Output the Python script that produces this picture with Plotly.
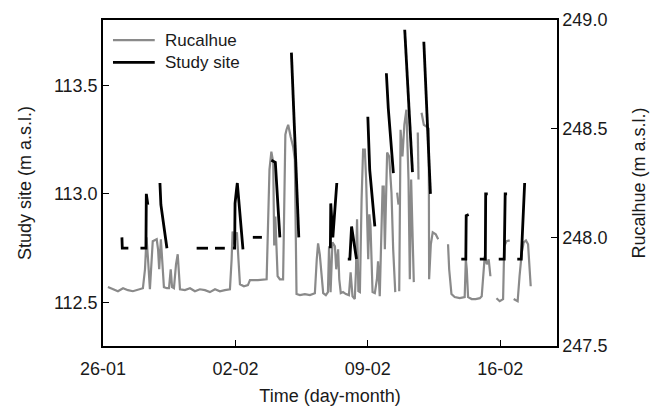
import datetime as dt
import plotly.graph_objects as go

# ---------------- data ----------------
start_date = dt.datetime(2011, 1, 26)

# Rucalhue (m a.s.l.), time in days since 26-01 ; None = gap
ruc_days = [0.26, 0.53, 0.79, 1.06, 1.32, 1.58, 1.85, 2.11, 2.22, 2.30, 2.38, 2.48, 2.63, 2.75, 2.84,
            2.91, 2.97, 3.06, 3.14, 3.22, 3.38, 3.49, 3.58, 3.65, 3.75, 3.86, 3.95, 4.01, 4.07, 4.33,
            4.60, 4.86, 5.12, 5.39, 5.65, 5.92, 6.18, 6.44, 6.71, 6.80, 6.85, 6.92, 7.00, 7.08, 7.16,
            7.24, 7.45, 7.66, 7.77, 8.19, 8.65, 8.73, 8.80, 8.90, 9.00, 9.05, 9.11, 9.23, 9.35, 9.52,
            9.58, 9.64, 9.70, 9.79, 9.92, 10.05, 10.14, 10.18, 10.23, 10.41, 10.67, 10.94, 11.20, 11.30,
            11.37, 11.46, 11.55, 11.64, 11.78, 11.89, 11.95, 12.03, 12.13, 12.20, 12.26, 12.33, 12.43,
            12.49, 12.57, 12.69, 12.84, 13.00, 13.09, 13.19, 13.31, 13.37, 13.43, 13.50, 13.58, 13.67,
            13.75, 13.84, 13.91, 14.02, 14.08, 14.14, 14.25, 14.37, 14.48, 14.54, 14.63, 14.78, 14.84,
            14.90, 15.02, 15.13, 15.25, 15.34, 15.45, None,
            15.55, 15.62, None,
            15.66, 15.73, 15.83, 15.93, 16.04, 16.15, 16.22, 16.29, 16.43, None,
            16.64, 16.68, None,
            16.84, 16.96, 17.10, 17.22, 17.24, 17.33, 17.43, 17.59, 17.72, None,
            18.24, 18.30, 18.42, 18.59, 18.86, 19.12, 19.18, 19.23, 19.30, 19.49, 19.70, 19.92, 20.02,
            20.18, 20.29, 20.39, 20.48, None,
            20.80, 20.97, 21.15, 21.21, 21.33, 21.50, None,
            21.71, 21.92, 22.02, 22.14, 22.24, 22.36, 22.47, 22.61]
ruc_level = [247.771, 247.761, 247.752, 247.766, 247.757, 247.752, 247.761, 247.766, 247.853, 248.000,
             247.899, 247.761, 247.982, 247.986, 247.991, 247.945, 247.853, 247.991, 247.899, 247.771,
             247.766, 247.766, 247.853, 247.771, 247.766, 247.876, 247.922, 247.807, 247.761, 247.757,
             247.766, 247.752, 247.761, 247.757, 247.748, 247.761, 247.752, 247.757, 247.761, 247.899,
             248.027, 247.968, 247.991, 248.023, 247.899, 247.784, 247.775, 247.780, 247.803, 247.803,
             247.807, 248.037, 248.312, 248.394, 248.344, 247.963, 248.096, 247.821, 247.807, 247.807,
             248.174, 248.472, 248.495, 248.518, 248.463, 248.417, 248.358, 247.945, 247.739, 247.734,
             247.739, 247.734, 247.743, 247.899, 247.972, 247.922, 247.807, 247.743, 247.734, 247.748,
             247.959, 247.748, 247.977, 247.968, 247.959, 247.853, 247.945, 247.807, 247.743, 247.748,
             247.739, 247.734, 247.839, 247.729, 247.716, 247.839, 248.083, 247.752, 247.748, 248.174,
             248.404, 248.404, 248.266, 247.899, 248.106, 248.055, 247.748, 247.743, 247.807, 247.890,
             247.729, 248.234, 248.234, 247.945, 248.390, 248.372, 248.206, 247.945, 247.748, None,
             248.206, 248.151, None,
             247.752, 248.495, 248.372, 248.518, 248.587, 248.266, 247.807, 248.266, 247.794, None,
             248.482, 248.266, None,
             248.573, 248.518, 248.509, 248.500, 247.807, 247.968, 248.023, 248.014, 247.991, None,
             247.968, 247.853, 247.739, 247.725, 247.720, 247.725, 247.899, 247.853, 247.725, 247.716,
             247.716, 247.720, 247.729, 247.913, 247.876, 247.899, 247.821, None,
             247.720, 247.706, 247.716, 247.959, 247.982, 247.986, None,
             247.716, 247.706, 247.821, 247.931, 247.977, 247.986, 247.968, 247.775]

# Study site (m a.s.l.), time in days since 26-01 ; None = gap
site_days = [1.00, 1.02, 1.34, None,
             1.98, 2.27, 2.29, 2.37, None,
             3.01, 3.06, 3.38, None,
             4.95, 5.55, None,
             5.92, 6.44, None,
             6.87, 6.96, 6.97, 6.98, 7.06, 7.10, 7.40, None,
             7.92, 8.40, None,
             8.90, 9.11, 9.35, None,
             9.96, 10.35, None,
             12.02, 12.04, 12.15, 12.36, None,
             12.94, 13.05, 13.14, 13.40, None,
             14.00, 14.10, 14.37, None,
             14.98, 15.08, 15.35, None,
             15.95, 16.36, None,
             16.96, 17.31, None,
             18.94, 19.18, 19.20, 19.33, None,
             19.92, 20.21, 20.23, 20.34, None,
             20.92, 21.21, 21.26, 21.36, None,
             21.90, 22.11, 22.29]
site_level = [112.80, 112.75, 112.75, None,
              112.75, 112.75, 113.00, 112.95, None,
              113.05, 112.95, 112.75, None,
              112.75, 112.75, None,
              112.75, 112.75, None,
              112.75, 112.75, 112.85, 112.956, 113.02, 113.05, 112.745, None,
              112.80, 112.80, None,
              113.155, 113.145, 112.80, None,
              113.65, 112.80, None,
              112.75, 112.956, 112.80, 113.05, None,
              112.70, 112.70, 112.85, 112.70, None,
              113.355, 113.11, 112.85, None,
              113.555, 113.395, 113.095, None,
              113.755, 113.10, None,
              113.70, 113.00, None,
              112.70, 112.70, 112.90, 112.905, None,
              112.70, 112.70, 113.00, 113.00, None,
              112.70, 112.70, 113.00, 113.00, None,
              112.70, 112.70, 113.05]

x_tick_days = [0, 7, 14, 21]
x_tick_labels = ["26-01", "02-02", "09-02", "16-02"]
left_ticks = [112.5, 113.0, 113.5]
right_ticks = [247.5, 248.0, 248.5, 249.0]
series_names = ["Rucalhue", "Study site"]

# ---------------- figure ----------------
def to_time(days):
    return [start_date + dt.timedelta(days=d) if d is not None else None for d in days]

FONT = "Liberation Sans, Arial, sans-serif"
GRAY = "#8a8a8a"
TXT = "#1a1a1a"

fig = go.Figure()
fig.add_trace(go.Scatter(x=to_time(ruc_days), y=ruc_level, mode="lines", name=series_names[0],
                         line=dict(color=GRAY, width=2.2), connectgaps=False, yaxis="y",
                         showlegend=False))
fig.add_trace(go.Scatter(x=to_time(site_days), y=site_level, mode="lines", name=series_names[1],
                         line=dict(color="black", width=2.8), connectgaps=False, yaxis="y2",
                         showlegend=False))

# legend drawn by hand (line samples + labels)
for i, (nm, col, w) in enumerate([(series_names[0], GRAY, 2.2), (series_names[1], "black", 2.8)]):
    yy = 0.938 - i * 0.068
    fig.add_shape(type="line", xref="paper", yref="paper", x0=0.022, x1=0.114, y0=yy, y1=yy,
                  line=dict(color=col, width=w))
    fig.add_annotation(xref="paper", yref="paper", x=0.132, y=yy, text=nm, showarrow=False,
                       xanchor="left", yanchor="middle", font=dict(family=FONT, size=17, color=TXT))

axis_common = dict(showline=True, linecolor="black", linewidth=1.5, ticks="inside", ticklen=6,
                   tickcolor="black", showgrid=False, zeroline=False, automargin=False,
                   tickfont=dict(family=FONT, size=18, color=TXT))

fig.update_layout(
    width=661, height=406,
    margin=dict(l=103, r=104, t=20, b=60),
    paper_bgcolor="white", plot_bgcolor="white",
    showlegend=False,
    xaxis=dict(type="date", range=[start_date, start_date + dt.timedelta(days=24)],
               tickvals=to_time(x_tick_days), ticktext=x_tick_labels, mirror=True,
               ticklabelstandoff=6,
               title=dict(text="Time (day-month)", font=dict(family=FONT, size=18, color=TXT),
                          standoff=12),
               **axis_common),
    yaxis=dict(side="right", range=[247.5, 249.0], tickvals=right_ticks,
               ticktext=[f"{v:.1f}" for v in right_ticks],
               title=dict(text="Rucalhue (m a.s.l.)", font=dict(family=FONT, size=18, color=TXT),
                          standoff=26),
               **axis_common),
    yaxis2=dict(side="left", overlaying="y", range=[112.3, 113.8], tickvals=left_ticks,
                ticktext=[f"{v:.1f}" for v in left_ticks],
                title=dict(text="Study site (m a.s.l.)", font=dict(family=FONT, size=18, color=TXT),
                           standoff=18),
                **axis_common),
)

fig.write_html("out.html", post_script="document.body.style.margin='0';",
               config={"displayModeBar": False})
